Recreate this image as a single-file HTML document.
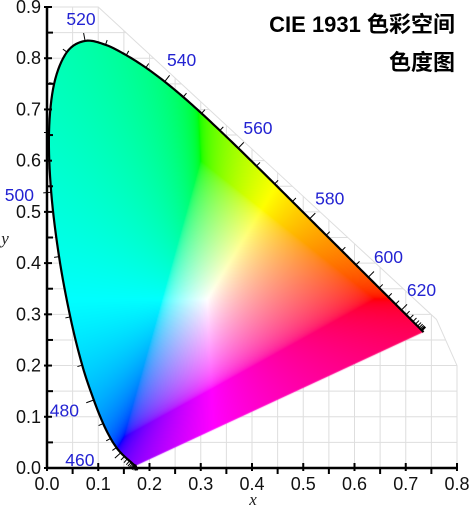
<!DOCTYPE html>
<html><head><meta charset="utf-8">
<style>
html,body{margin:0;padding:0;background:#fff;}
#wrap{position:relative;width:470px;height:509px;overflow:hidden;}
canvas,svg{position:absolute;left:0;top:0;}
</style></head>
<body>
<div id="wrap">
<svg id="gsv" width="470" height="509"></svg>
<canvas id="cv" width="470" height="509"></canvas>
<svg id="sv" width="470" height="509"></svg>
</div>
<script>
const wavelengths=[380,385,390,395,400,405,410,415,420,425,430,435,440,445,450,455,460,465,470,475,480,485,490,495,500,505,510,515,520,525,530,535,540,545,550,555,560,565,570,575,580,585,590,595,600,605,610,615,620,625,630,635,640,645,650,655,660,665,670,680,690,700];
const locusX=[0.1741,0.1740,0.1738,0.1736,0.1733,0.1730,0.1726,0.1721,0.1714,0.1703,0.1689,0.1669,0.1644,0.1611,0.1566,0.1510,0.1440,0.1355,0.1241,0.1096,0.0913,0.0687,0.0454,0.0235,0.0082,0.0039,0.0139,0.0389,0.0743,0.1142,0.1547,0.1929,0.2296,0.2658,0.3016,0.3373,0.3731,0.4087,0.4441,0.4788,0.5125,0.5448,0.5752,0.6029,0.6270,0.6482,0.6658,0.6801,0.6915,0.7006,0.7079,0.7140,0.7190,0.7230,0.7260,0.7283,0.7300,0.7311,0.7320,0.7334,0.7344,0.7347];
const locusY=[0.0050,0.0050,0.0049,0.0049,0.0048,0.0048,0.0048,0.0048,0.0051,0.0058,0.0069,0.0086,0.0109,0.0138,0.0177,0.0227,0.0297,0.0399,0.0578,0.0868,0.1327,0.2007,0.2950,0.4127,0.5384,0.6548,0.7502,0.8120,0.8338,0.8262,0.8059,0.7816,0.7543,0.7243,0.6923,0.6589,0.6245,0.5896,0.5547,0.5202,0.4866,0.4544,0.4242,0.3965,0.3725,0.3514,0.3340,0.3197,0.3083,0.2993,0.2920,0.2859,0.2809,0.2770,0.2740,0.2717,0.2700,0.2689,0.2680,0.2666,0.2656,0.2653];
const labelWaves=[460,480,500,520,540,560,580,600,620];
const xTicks=[0,0.1,0.2,0.3,0.4,0.5,0.6,0.7,0.8];
const yTicks=[0,0.1,0.2,0.3,0.4,0.5,0.6,0.7,0.8,0.9];

const X0=47,X1=457,Y0=468,Y1=7;
const sx=v=>X0+v/0.8*(X1-X0);
const sy=v=>Y0-v/0.9*(Y0-Y1);
const ix=p=>(p-X0)/(X1-X0)*0.8;
const iy=p=>(Y0-p)/(Y0-Y1)*0.9;
const NS='http://www.w3.org/2000/svg';
const svg=document.getElementById('sv');
const gsv=document.getElementById('gsv');
function mk(tag,attrs,parent){const e=document.createElementNS(NS,tag);for(const k in attrs)e.setAttribute(k,attrs[k]);(parent||svg).appendChild(e);return e;}

const envPts=[[0,0.9],[0.1,0.9],[0.76,0.29],[0.8,0.2],[0.8,0],[0,0]];
const defs=mk('defs',{},gsv);
const cp=mk('clipPath',{id:'env'},defs);
mk('polygon',{points:envPts.map(p=>sx(p[0])+','+sy(p[1])).join(' ')},cp);
const grid=mk('g',{'clip-path':'url(#env)',stroke:'#dedede','stroke-width':1},gsv);


for(let i=1;i<=16;i++){const v=i*0.05;mk('line',{x1:sx(v),x2:sx(v),y1:sy(0),y2:sy(0.9)},grid);}
for(let i=1;i<=18;i++){const v=i*0.05;mk('line',{x1:sx(0),x2:sx(0.8),y1:sy(v),y2:sy(v)},grid);}
mk('polyline',{points:envPts.slice(0,5).map(p=>sx(p[0])+','+sy(p[1])).join(' '),fill:'none',stroke:'#dedede'},gsv);

const pts=locusX.map((x,i)=>[sx(x),sy(locusY[i])]);
const smooth=[];
for(let i=0;i<pts.length-1;i++){
 const p0=pts[Math.max(0,i-1)],p1=pts[i],p2=pts[i+1],p3=pts[Math.min(pts.length-1,i+2)];
 for(let s=0;s<8;s++){const t=s/8,t2=t*t,t3=t2*t;
  smooth.push([0,1].map(k=>0.5*((2*p1[k])+(-p0[k]+p2[k])*t+(2*p0[k]-5*p1[k]+4*p2[k]-p3[k])*t2+(-p0[k]+3*p1[k]-3*p2[k]+p3[k])*t3)));}
}
smooth.push(pts[pts.length-1]);

const cv=document.getElementById('cv');const ctx=cv.getContext('2d');
const img=ctx.createImageData(470,509);
const gam=c=>c<=0.0031308?12.92*c:1.055*Math.pow(c,1/2.4)-0.055;
for(let py=0;py<509;py++){for(let px=0;px<470;px++){
 const x=ix(px+0.5),y=iy(py+0.5);if(y<=0.001)continue;
 const X=x/y,Y=1,Z=(1-x-y)/y;
 let r=3.2406*X-1.5372*Y-0.4986*Z,g=-0.9689*X+1.8758*Y+0.0415*Z,b=0.0557*X-0.2040*Y+1.0570*Z;
 const m=Math.min(r,g,b);if(m<0){r-=m;g-=m;b-=m;}
 const M=Math.max(r,g,b);r/=M;g/=M;b/=M;
 const k=(py*470+px)*4;img.data[k]=255*gam(r);img.data[k+1]=255*gam(g);img.data[k+2]=255*gam(b);img.data[k+3]=255;}}
const off=document.createElement('canvas');off.width=470;off.height=509;off.getContext('2d').putImageData(img,0,0);
ctx.save();ctx.beginPath();smooth.forEach((p,i)=>i?ctx.lineTo(p[0],p[1]):ctx.moveTo(p[0],p[1]));ctx.closePath();ctx.clip();ctx.drawImage(off,0,0);ctx.restore();

const outline=mk('polyline',{points:smooth.map(p=>p.join(',')).join(' '),fill:'none',stroke:'#000','stroke-width':2.2,'stroke-linejoin':'round'});



function normalAt(i){const a=pts[Math.max(0,i-1)],b=pts[Math.min(pts.length-1,i+1)];let tx=b[0]-a[0],ty=b[1]-a[1];const l=Math.hypot(tx,ty)||1;tx/=l;ty/=l;return [ty,-tx];}
const lg=mk('g',{});


wavelengths.forEach((w,i)=>{
 if(w>=680||w<=380)return;
 const n=normalAt(i),p=pts[i];const isL=labelWaves.includes(w);const len=isL?8:5;
 mk('line',{x1:p[0],y1:p[1],x2:p[0]+n[0]*len,y2:p[1]+n[1]*len,stroke:'#000','stroke-width':1},lg);
 if(isL){const d=20+Math.abs(n[0])*12;
  let lx=p[0]+n[0]*d,ly=p[1]+n[1]*d+6;
  if(ly>Y0-2){lx-=(ly-(Y0-2))*1.6;ly=Y0-2;}
  const t=mk('text',{x:lx,y:ly,'text-anchor':'middle','font-family':'Liberation Sans, sans-serif','font-size':17.5,fill:'#2323d2'},lg);
  t.textContent=w;
  
  }
});

const ax=mk('g',{stroke:'#000'});


mk('line',{x1:X0,y1:Y0,x2:X1+1,y2:Y0,'stroke-width':2.5},ax);
mk('line',{x1:X0,y1:Y0+1,x2:X0,y2:Y1,'stroke-width':2.5},ax);
xTicks.forEach(v=>{mk('line',{x1:sx(v),x2:sx(v),y1:Y0-5,y2:Y0+3,'stroke-width':2},ax);
 const t=mk('text',{x:sx(v),y:Y0+22,'text-anchor':'middle','font-family':'Liberation Sans, sans-serif','font-size':18,fill:'#111',stroke:'none'});t.textContent=v.toFixed(1);
 
 
 if(v<0.8)mk('line',{x1:sx(v+0.05),x2:sx(v+0.05),y1:Y0,y2:Y0+6,'stroke-width':2},ax);});
yTicks.forEach(v=>{mk('line',{x1:X0-3,x2:X0+5,y1:sy(v),y2:sy(v),'stroke-width':2},ax);
 const t=mk('text',{x:X0-6,y:sy(v)+6,'text-anchor':'end','font-family':'Liberation Sans, sans-serif','font-size':18,fill:'#111',stroke:'none'});t.textContent=v.toFixed(1);
 
 
 if(v<0.9)mk('line',{x1:X0,x2:X0+6,y1:sy(v+0.05),y2:sy(v+0.05),'stroke-width':2},ax);});
const xl=mk('text',{x:253,y:505,'text-anchor':'middle','font-family':'Liberation Serif, serif','font-style':'italic','font-size':17,fill:'#222'});xl.textContent='x';

const yl=mk('text',{x:5,y:244,'text-anchor':'middle','font-family':'Liberation Serif, serif','font-style':'italic','font-size':17,fill:'#222'});yl.textContent='y';

const t1=mk('text',{x:455,y:32,'text-anchor':'end','font-family':'Liberation Sans, Noto Sans CJK SC, sans-serif','font-weight':'bold','font-size':22,fill:'#000'});t1.textContent='CIE 1931 色彩空间';

const t2=mk('text',{x:455,y:70,'text-anchor':'end','font-family':'Liberation Sans, Noto Sans CJK SC, sans-serif','font-weight':'bold','font-size':22,fill:'#000'});t2.textContent='色度图';

</script>
</body></html>
